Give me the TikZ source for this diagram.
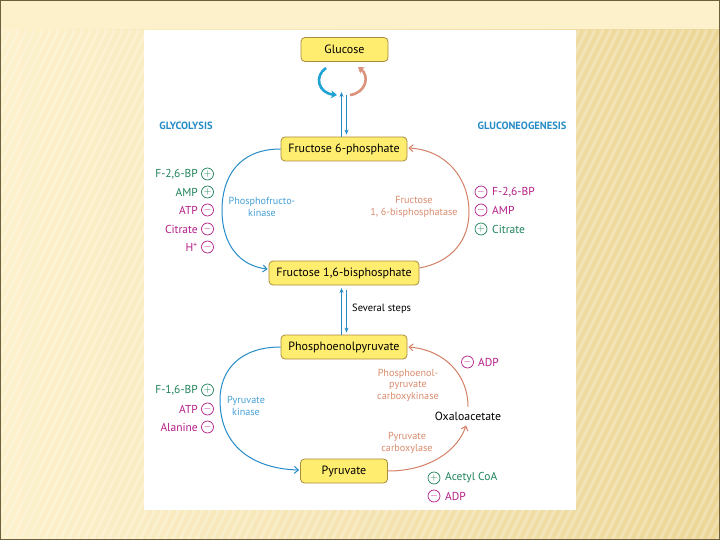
\documentclass[tikz,border=0pt]{standalone}
\usepackage{fontspec}
\setmainfont{PT Sans}
\usetikzlibrary{arrows.meta,calc}
\definecolor{boxfill}{RGB}{255,237,112}
\definecolor{boxdraw}{RGB}{170,140,60}
\definecolor{gblue}{RGB}{38,140,200}
\definecolor{lblue}{RGB}{70,160,215}
\definecolor{gorange}{RGB}{212,128,102}
\definecolor{lorange}{RGB}{218,140,110}
\definecolor{ggreen}{RGB}{30,130,90}
\definecolor{gmag}{RGB}{180,30,135}
\definecolor{bgA}{RGB}{253,241,203}
\definecolor{bgB}{RGB}{236,214,150}
\definecolor{frame}{RGB}{110,95,60}
\begin{document}
\begin{tikzpicture}[x=1pt,y=-1pt,
  met/.style={draw=boxdraw, fill=boxfill, rounded corners=4pt, line width=0.8pt,
    minimum height=24pt, inner sep=0pt, font=\fontsize{12}{14}\selectfont},
  reg/.style={font=\fontsize{11.5}{13}\selectfont, inner sep=0pt},
  sgn/.style={circle, draw, line width=0.7pt, minimum size=12pt, inner sep=0pt, font=\fontsize{10}{10}\selectfont},
  enz/.style={font=\fontsize{10.2}{11.5}\selectfont, align=center, inner sep=0pt},
  head/.style={font=\bfseries\fontsize{10.5}{12}\selectfont, text=gblue, inner sep=0pt},
  blink/.style={draw=gblue, line width=1pt, -{Straight Barb[length=4pt,width=7pt]}},
  olink/.style={draw=gorange, line width=1pt, -{Straight Barb[length=4pt,width=7pt]}},
  vlink/.style={draw=gblue, line width=1pt, -{Stealth[length=5pt,width=4pt]}},
  bigarr/.style={line width=2.6pt, -{Stealth[length=6pt,width=8pt]}}
]
\useasboundingbox (0,0) rectangle (720,540);
% slide background
\fill[bgA] (0,0) rectangle (720,540);
\shade[left color=bgA, right color=bgB] (0,30) rectangle (720,540);
\begin{scope}
  \clip (0,30) rectangle (720,540);
  \foreach \s in {-300,-292,...,720}
    \draw[white, opacity=0.25, line width=3pt] (\s,540) -- ({\s+255},30);
\end{scope}
\draw[frame, line width=1.5pt] (0,0) rectangle (720,540);
% white panel
\fill[white] (144,30) rectangle (576,510);

% metabolites
\node[met, minimum width=87pt] (glc) at (344.5,49.5) {Glucose};
\node[met, minimum width=126pt] (f6p) at (344,149) {Fructose 6-phosphate};
\node[met, minimum width=150pt] (fbp) at (344,273) {Fructose 1,6-bisphosphate};
\node[met, minimum width=126pt] (pep) at (344,347) {Phosphoenolpyruvate};
\node[met, minimum width=87pt] (pyr) at (344,471) {Pyruvate};
\node[reg, font=\fontsize{11.8}{13}\selectfont] (oxa) at (468,416) {Oxaloacetate};

% headings
\node[head] (gly) at (186,126) {GLYCOLYSIS};
\node[head] (gng) at (522,126) {GLUCONEOGENESIS};

% glucose cycle arrows
\coordinate (ga1) at (326,68);
\coordinate (ga2) at (337,95);
\coordinate (gb1) at (350,95);
\coordinate (gb2) at (358,67);
\draw[bigarr, gblue!80!cyan] (ga1) .. controls (314,76) and (318,93) .. (ga2);
\draw[bigarr, gorange!85!white] (gb1) .. controls (366,93) and (370,76) .. (gb2);
\coordinate (t1) at (341.5,92);
\coordinate (t2) at (346.5,95);
\draw[vlink] ($(f6p.north)+(-2.5,0)$) -- (t1);
\draw[vlink] (t2) -- ($(f6p.north)+(2.5,-2)$);
\coordinate (s1) at (341.5,288);
\coordinate (s2) at (346.5,290);
\draw[vlink] ($(pep.north)+(-2.5,0)$) -- (s1);
\draw[vlink] (s2) -- ($(pep.north)+(2.5,-2)$);
\node[reg, anchor=west, font=\fontsize{10.5}{12}\selectfont] (sev) at (352,309) {Several steps};

% upper cycle
\draw[blink] (f6p.west) .. controls (238,149) and (222,178) .. (222,210)
  .. controls (222,245) and (240,266) .. ($(fbp.west)+(-1,-4)$);
\draw[olink] ($(fbp.east)+(0,-5)$) .. controls (452,262) and (469,240) .. (469,212)
  .. controls (469,178) and (446,150) .. ($(f6p.east)+(1,-1)$);
\node[enz, text=lblue] (pfk) at (262,207) {Phosphofructo-\\kinase};
\node[enz, text=lorange] (fbpase) at (414,207) {Fructose\\1, 6-bisphosphatase};

% upper left regulators
\foreach \n/\t/\y/\c/\s in {a/F-2{,}6-BP/174/ggreen/+, b/AMP/192/ggreen/+, c/ATP/210/gmag/-, d/Citrate/229/gmag/-, e/H\textsuperscript{+}/247/gmag/-}{
  \node[reg, anchor=east, text=\c] (ul\n) at (198,\y) {\t};
  \node[sgn, draw=\c, text=\c] (uls\n) at (207.5,\y) {$\s$};
}
% upper right regulators
\foreach \n/\t/\y/\c/\s in {a/F-2{,}6-BP/192/gmag/-, b/AMP/210/gmag/-, c/Citrate/229/ggreen/+}{
  \node[sgn, draw=\c, text=\c] (urs\n) at (481,\y) {$\s$};
  \node[reg, anchor=west, text=\c] (ur\n) at (492,\y) {\t};
}

% lower cycle
\draw[blink] (pep.west) .. controls (240,347) and (220,370) .. (220,400)
  .. controls (220,450) and (258,469) .. ($(pyr.west)+(-1,-1)$);
\draw[olink] (pyr.east) .. controls (430,471) and (458,450) .. ($(oxa.south)+(-2,5)$);
\draw[olink] ($(oxa.north)+(0,-5)$) .. controls (468,375) and (445,350) .. ($(pep.east)+(1,0)$);
\node[enz, text=lblue] (pk) at (246,406) {Pyruvate\\kinase};
\node[enz, text=lorange] (pepck) at (408,385) {Phosphoenol-\\pyruvate\\carboxykinase};
\node[enz, text=lorange] (pc) at (407,443) {Pyruvate\\carboxylase};

% lower left regulators
\foreach \n/\t/\y/\c/\s in {a/F-1{,}6-BP/390/ggreen/+, b/ATP/409/gmag/-, c/Alanine/427/gmag/-}{
  \node[reg, anchor=east, text=\c] (ll\n) at (198,\y) {\t};
  \node[sgn, draw=\c, text=\c] (lls\n) at (207.5,\y) {$\s$};
}
% lower right regulators
\node[sgn, draw=gmag, text=gmag] (lrs1) at (467.5,362) {$-$};
\node[reg, anchor=west, text=gmag] (lr1) at (478,362) {ADP};
\node[sgn, draw=ggreen, text=ggreen] (lrs2) at (434,478) {$+$};
\node[reg, anchor=west, text=ggreen] (lr2) at (445,478) {Acetyl CoA};
\node[sgn, draw=gmag, text=gmag] (lrs3) at (434,496) {$-$};
\node[reg, anchor=west, text=gmag] (lr3) at (445,496) {ADP};
\end{tikzpicture}
\end{document}
